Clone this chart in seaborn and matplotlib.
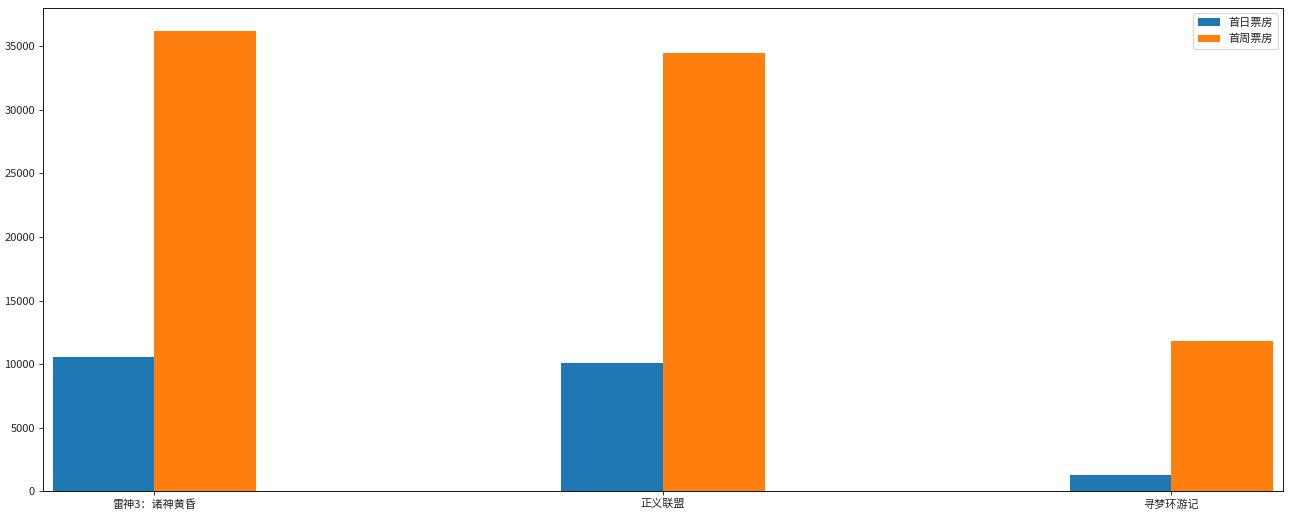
import matplotlib
matplotlib.use("Agg")
import matplotlib.pyplot as plt
import pandas as pd
import seaborn as sns

movies = ["雷神3：诸神黄昏", "正义联盟", "寻梦环游记"]
first_day = [10587.6, 10062.5, 1275.7]
first_week = [36224.9, 34479.6, 11830]
series = ["首日票房", "首周票房"]

df = pd.DataFrame({
    "电影": movies * 2,
    "票房": first_day + first_week,
    "类型": [series[0]] * 3 + [series[1]] * 3,
})

sns.set_style("white")
plt.rcParams["font.family"] = ["Noto Sans CJK SC", "DejaVu Sans"]

fig, ax = plt.subplots(figsize=(1291 / 80, 517 / 80), dpi=80)
sns.barplot(data=df, x="电影", y="票房", hue="类型", order=movies,
            palette=["#1f77b4", "#ff7f0e"], width=0.4, saturation=1,
            ax=ax)
for p in ax.patches:
    p.set_edgecolor("none")
ax.set_xlim(-0.22, 2.22)
ax.set_ylim(0, 36224.9 * 1.05)
ax.set_xlabel("")
ax.set_ylabel("")
ax.tick_params(axis="both", direction="out", length=3.5, bottom=True, left=True)
for s in ax.spines.values():
    s.set_color("black")
    s.set_linewidth(0.8)
ax.legend(loc="upper right", title=None)
fig.subplots_adjust(left=0.033, right=0.994, top=0.985, bottom=0.05)
fig.savefig("out.png", dpi=80)
